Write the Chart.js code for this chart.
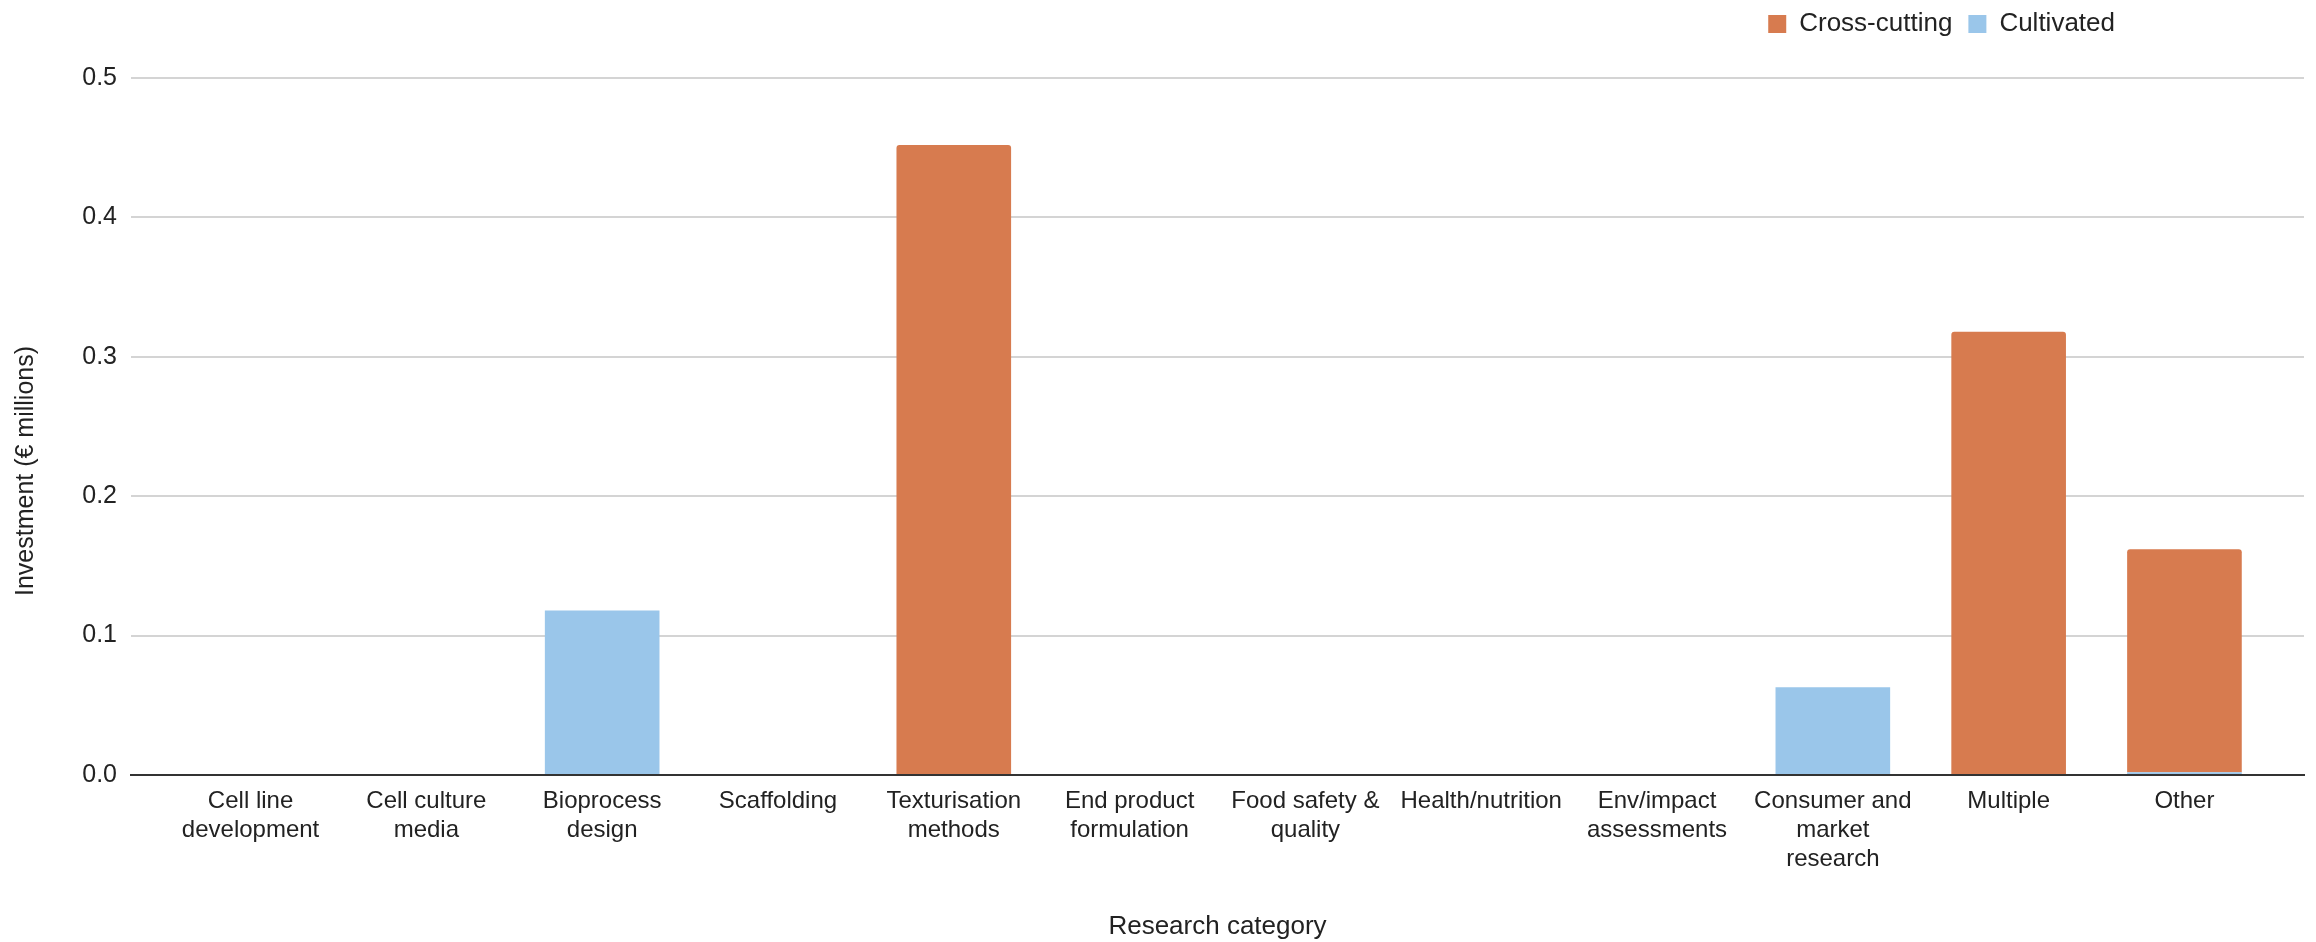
<!DOCTYPE html>
<html>
<head>
<meta charset="utf-8">
<title>Investment by research category</title>
<script src="https://cdn.jsdelivr.net/npm/chart.js@4.4.1/dist/chart.umd.min.js"></script>
<style>
  html, body { margin: 0; padding: 0; background: #ffffff; }
  #wrap { width: 2316px; height: 942px; }
</style>
</head>
<body>
<div id="wrap"><canvas id="chart" width="2316" height="942"></canvas></div>
<script>
// Research categories (multi-line labels as they wrap under the axis)
const categories = [
  ['Cell line', 'development'],
  ['Cell culture', 'media'],
  ['Bioprocess', 'design'],
  ['Scaffolding'],
  ['Texturisation', 'methods'],
  ['End product', 'formulation'],
  ['Food safety &', 'quality'],
  ['Health/nutrition'],
  ['Env/impact', 'assessments'],
  ['Consumer and', 'market', 'research'],
  ['Multiple'],
  ['Other']
];

// Investment in € millions per category
const crossCutting = [0, 0, 0, 0, 0.452, 0, 0, 0, 0, 0, 0.318, 0.160];
const cultivated   = [0, 0, 0.118, 0, 0, 0, 0, 0, 0, 0.063, 0, 0.002];

// Value axis ticks
const yTicks = [0, 0.1, 0.2, 0.3, 0.4, 0.5];

const seriesNames = ['Cross-cutting', 'Cultivated'];
const ORANGE = '#D77B4F';
const BLUE = '#9AC6EA';
const TEXT = '#222222';
const FONT = "'Liberation Sans', Arial, Helvetica, sans-serif";

const toPoints = arr => arr.map((v, i) => ({ x: i, y: v }));

// Legend sits in the top-right corner, left of the plot's right edge
const legendPlacement = {
  id: 'legendPlacement',
  afterLayout(chart) {
    const lg = chart.legend;
    if (!lg) return;
    const dx = 2131 - lg.right;
    lg.left += dx; lg.right += dx;
    const dy = -5 - lg.top;
    lg.top += dy; lg.bottom += dy;
  }
};

// Vertical axis title, centred on the canvas height
const yAxisTitle = {
  id: 'yAxisTitle',
  afterDraw(chart) {
    const ctx = chart.ctx;
    ctx.save();
    ctx.translate(26, chart.height / 2);
    ctx.rotate(-Math.PI / 2);
    ctx.font = '25px ' + FONT;
    ctx.fillStyle = TEXT;
    ctx.textAlign = 'center';
    ctx.textBaseline = 'middle';
    ctx.fillText('Investment (€ millions)', 0, 0);
    ctx.restore();
  }
};

new Chart(document.getElementById('chart'), {
  type: 'bar',
  data: {
    datasets: [
      {
        label: seriesNames[1],
        data: toPoints(cultivated),
        backgroundColor: BLUE,
        borderWidth: 0,
        borderRadius: 0
      },
      {
        label: seriesNames[0],
        data: toPoints(crossCutting),
        backgroundColor: ORANGE,
        borderWidth: 0,
        borderRadius: { topLeft: 3, topRight: 3, bottomLeft: 0, bottomRight: 0 },
        borderSkipped: 'start'
      }
    ]
  },
  options: {
    responsive: false,
    animation: false,
    devicePixelRatio: 1,
    categoryPercentage: 1,
    barPercentage: 0.652,
    layout: { padding: { top: 26, right: 12, bottom: 0, left: 0 } },
    plugins: {
      tooltip: { enabled: false },
      legend: {
        position: 'top',
        align: 'end',
        labels: {
          boxWidth: 18,
          boxHeight: 18,
          padding: 16,
          color: TEXT,
          font: { family: FONT, size: 26 },
          sort: (a, b) => b.datasetIndex - a.datasetIndex
        }
      }
    },
    scales: {
      x: {
        type: 'linear',
        min: -0.68,
        max: 11.68,
        stacked: true,
        offset: false,
        afterBuildTicks: scale => {
          scale.ticks = categories.map((_, i) => ({ value: i }));
        },
        afterFit: scale => { scale.height = 167; },
        grid: { display: false, drawTicks: false },
        border: { display: true, color: '#333333', width: 2 },
        ticks: {
          autoSkip: false,
          maxRotation: 0,
          minRotation: 0,
          padding: 12,
          color: TEXT,
          font: { family: FONT, size: 24, lineHeight: 1.2 },
          callback: v => categories[v]
        },
        title: {
          display: true,
          text: 'Research category',
          color: TEXT,
          font: { family: FONT, size: 26, lineHeight: 1.2 },
          padding: { top: 0, bottom: 0 }
        }
      },
      y: {
        stacked: true,
        min: yTicks[0],
        max: yTicks[yTicks.length - 1],
        afterBuildTicks: scale => {
          scale.ticks = yTicks.map(v => ({ value: v }));
        },
        afterFit: scale => { scale.width = 131; },
        grid: {
          drawTicks: false,
          lineWidth: 2,
          color: c => (c.tick && c.tick.value === 0) ? '#333333' : '#d4d4d4'
        },
        border: { display: false },
        ticks: {
          padding: 14,
          color: TEXT,
          font: { family: FONT, size: 25 },
          callback: v => Number(v).toFixed(1)
        }
      }
    }
  },
  plugins: [legendPlacement, yAxisTitle]
});
</script>
</body>
</html>
